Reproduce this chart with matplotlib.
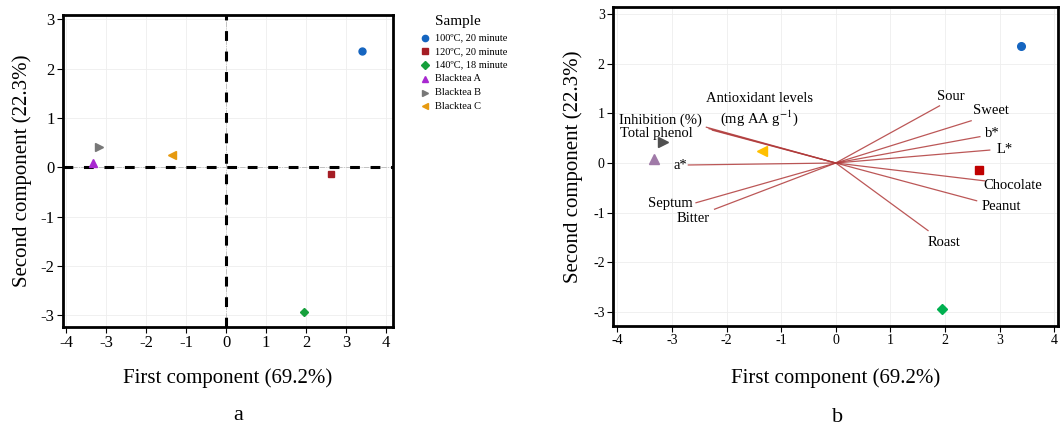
import numpy as np
import matplotlib.pyplot as plt
from matplotlib.lines import Line2D

plt.rcParams['font.family'] = ['Liberation Serif', 'DejaVu Serif']
plt.rcParams['mathtext.fontset'] = 'stix'
plt.rcParams['axes.unicode_minus'] = False

# muestras (scores PC1, PC2)
samples = ["100\u00baC, 20 minute", "120\u00baC, 20 minute", "140\u00baC, 18 minute",
           "Blacktea A", "Blacktea B", "Blacktea C"]
pc1 = [3.39, 2.62, 1.95, -3.33, -3.17, -1.35]
pc2 = [2.36, -0.14, -2.93, 0.09, 0.42, 0.24]
markers = ['o', 's', 'D', '^', '>', '<']
sizes = [5, 5, 4.5, 6, 6, 6]
colors_a = ['#1565c0', '#a51d24', '#16a03c', '#a828d0', '#777777', '#e69a10']
colors_b = ['#1565c0', '#c00000', '#00b050', '#a07aa8', '#505050', '#ffc000']

# variables (loadings) y posicion de etiquetas
var_names = ["Antioxidant levels\n(mg AA g$^{\\mathrm{-1}}$)", "Inhibition (%)", "Total phenol",
             "a*", "Septum", "Bitter", "Sour", "Sweet", "b*", "L*",
             "Chocolate", "Peanut", "Roast"]
var_x = [-2.26, -2.32, -2.37, -2.70, -2.56, -2.22, 1.90, 2.48, 2.64, 2.82, 2.73, 2.58, 1.69]
var_y = [0.66, 0.69, 0.72, -0.04, -0.80, -0.93, 1.15, 0.85, 0.53, 0.26, -0.36, -0.76, -1.36]
lab_x = [-1.40, -3.22, -3.28, -2.84, -3.02, -2.61, 2.10, 2.85, 2.86, 3.10, 3.24, 3.03, 1.98]
lab_y = [1.07, 0.86, 0.60, -0.06, -0.82, -1.12, 1.33, 1.05, 0.60, 0.27, -0.45, -0.88, -1.60]

ticks = [-4, -3, -2, -1, 0, 1, 2, 3, 4]
yticks = [-3, -2, -1, 0, 1, 2, 3]

fig = plt.figure(figsize=(10.6, 4.3), dpi=100)
ax1 = fig.add_axes([0.0594, 0.2395, 0.3113, 0.7256])
ax2 = fig.add_axes([0.5783, 0.2419, 0.4198, 0.7419])


def estilo(ax, xl, yl, fs_tick, ylab_x):
    ax.set_xlim(xl)
    ax.set_ylim(yl)
    ax.set_xticks(ticks)
    ax.set_yticks(yticks)
    ax.grid(True, color='#eeeeee', lw=0.6)
    ax.set_axisbelow(True)
    for s in ax.spines.values():
        s.set_linewidth(2.0)
    ax.tick_params(direction='out', length=4, width=0.8, labelsize=fs_tick, pad=2)
    ax.set_xlabel("First component (69.2%)", fontsize=15)
    ax.set_ylabel("Second component (22.3%)", fontsize=15)
    ax.xaxis.set_label_coords(0.5, -0.165)
    ax.xaxis.label.set_va('center')
    ax.yaxis.set_label_coords(ylab_x, 0.5)
    ax.yaxis.label.set_va('center')


# ---- a ----
estilo(ax1, (-4.08, 4.17), (-3.24, 3.09), 12, -0.125)
ax1.axhline(0, color='#bbbbbb', lw=0.6, ls='-.')
ax1.axvline(0, color='#bbbbbb', lw=0.6, ls='-.')
ax1.axhline(0, color='black', lw=2.2, ls=(0, (3.2, 3.5)))
ax1.axvline(0, color='black', lw=2.2, ls=(0, (3.2, 3.5)))
for i in range(len(samples)):
    ax1.plot(pc1[i], pc2[i], marker=markers[i], ms=sizes[i], color=colors_a[i], ls='none')

# leyenda manual
fig.text(435 / 1060, 1 - 21 / 430, "Sample", fontsize=11, va='center', ha='left')
for i in range(len(samples)):
    yy = 1 - (37.7 + 13.7 * i) / 430
    fig.add_artist(Line2D([425 / 1060], [yy], marker=markers[i], ms=4.5, color=colors_a[i], ls='none'))
    fig.text(435 / 1060, yy, samples[i], fontsize=7.5, va='center', ha='left')

fig.text(238 / 1060, 1 - 415 / 430, "a", fontsize=16, ha='center', va='center')

# ---- b ----
estilo(ax2, (-4.08, 4.07), (-3.28, 3.14), 10, -0.09)
for i in range(len(var_names)):
    ax2.plot([0, var_x[i]], [0, var_y[i]], color='#b03a3a', lw=0.9, alpha=0.85)
    ax2.text(lab_x[i], lab_y[i], var_names[i], fontsize=10.5, ha='center', va='center',
             linespacing=1.25)
for i in range(len(samples)):
    ax2.plot(pc1[i], pc2[i], marker=markers[i], ms=sizes[i] + 0.5, color=colors_b[i], ls='none')

fig.text(838 / 1060, 1 - 418 / 430, "b", fontsize=16, ha='center', va='center')

plt.savefig("out.png", dpi=100)
